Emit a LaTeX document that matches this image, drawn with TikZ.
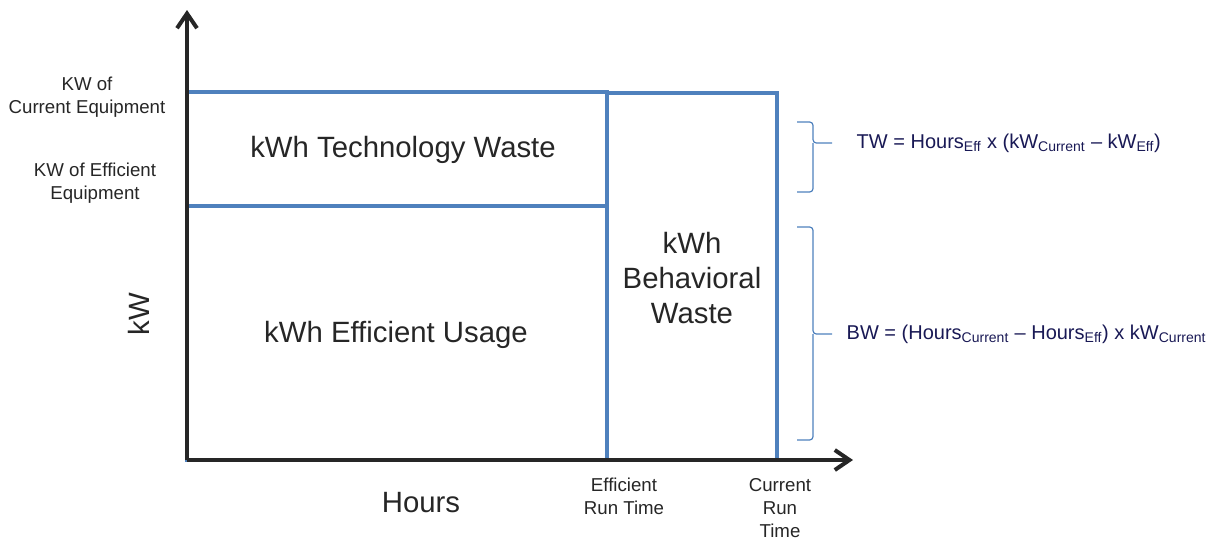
\documentclass[tikz,border=0pt]{standalone}
\usepackage{fontspec}
\setmainfont{Liberation Sans}
\usetikzlibrary{arrows.meta}
\definecolor{boxblue}{RGB}{79,129,189}
\definecolor{axisgray}{RGB}{38,38,38}
\definecolor{formnavy}{RGB}{25,25,85}
\begin{document}
\begin{tikzpicture}[x=0.75pt, y=-0.75pt,
  axis/.style={line width=3.2pt, axisgray, -{Straight Barb[length=11pt, width=15pt, line width=3pt]}},
  area/.style={line width=2.3pt, boxblue},
  brace/.style={line width=0.9pt, boxblue, rounded corners=2.5pt},
  small/.style={font=\fontsize{14}{17.25}\selectfont, align=center, text=axisgray},
  big/.style={font=\fontsize{22}{28}\selectfont, align=center, text=axisgray},
  formula/.style={font=\fontsize{15}{18}\selectfont, anchor=west, text=formnavy}]
\useasboundingbox (0,0) rectangle (1219,540);

% Draw the areas
\draw[area] (187,92) rectangle (607,206);
\draw[area] (187,206) rectangle (607,460);
\draw[area] (607,93) rectangle (777,460);

% Draw the axes
\coordinate (origin) at (187,460);
\coordinate (ytop) at (187,10);
\coordinate (xend) at (853,460);
\draw[axis] (origin) -- (ytop);
\draw[axis] (origin) -- (xend);

% Labels in the areas
\node[big] (techwaste) at (403,150) {kWh Technology Waste};
\node[big] (effusage) at (396,335) {kWh Efficient Usage};
\node[big, font=\fontsize{22}{26.5}\selectfont] (behwaste) at (692,278) {kWh\\Behavioral\\Waste};

% Axis labels
\node[big, rotate=90] (kw) at (139,314) {kW};
\node[big] (hours) at (421,503) {Hours};
\node[small] (kwcur) at (87,97) {KW of\\Current Equipment};
\node[small] (kweff) at (95,183) {KW of Efficient\\Equipment};
\node[small] (effrun) at (624,496) {Efficient\\Run Time};
\node[small] (currun) at (780,508) {Current\\Run\\Time};

% Braces with the formulas
\coordinate (twtip) at (832,143);
\coordinate (bwtip) at (832,334);
\draw[brace] (797,122) -- (813,122) -- (813,143) -- (twtip);
\draw[brace] (797,192) -- (813,192) -- (813,143);
\draw[brace] (797,227) -- (813,227) -- (813,334) -- (bwtip);
\draw[brace] (797,440) -- (813,440) -- (813,334);
\node[formula] (twform) at (852,143) {TW = Hours\textsubscript{Eff} x (kW\textsubscript{Current} – kW\textsubscript{Eff})};
\node[formula] (bwform) at (842,334) {BW = (Hours\textsubscript{Current} – Hours\textsubscript{Eff}) x kW\textsubscript{Current}};
\end{tikzpicture}
\end{document}
